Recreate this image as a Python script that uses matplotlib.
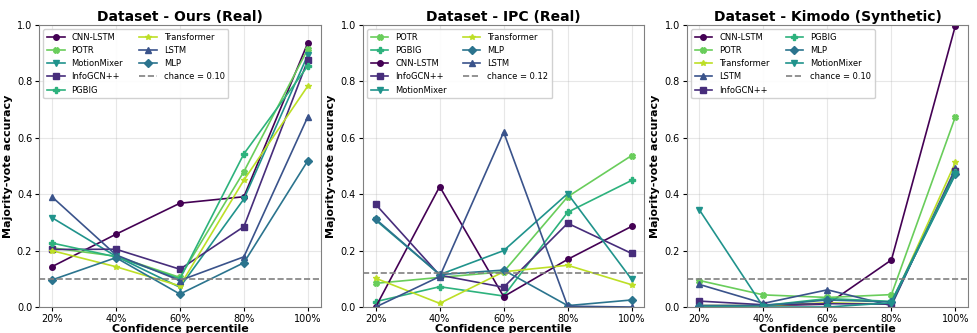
import numpy as np
import matplotlib
matplotlib.use("Agg")
import matplotlib.pyplot as plt

percentiles = ["20%", "40%", "60%", "80%", "100%"]
models = ["CNN-LSTM", "InfoGCN++", "LSTM", "MLP", "MotionMixer", "PGBIG", "POTR", "Transformer"]
markers = ["o", "s", "^", "D", "v", "P", "X", "*"]

# majority-vote accuracy per model, ordered by percentile
ours = {
    "CNN-LSTM":    [0.143, 0.258, 0.368, 0.391, 0.937],
    "InfoGCN++":   [0.204, 0.205, 0.134, 0.285, 0.876],
    "LSTM":        [0.391, 0.185, 0.094, 0.178, 0.675],
    "MLP":         [0.096, 0.175, 0.046, 0.157, 0.519],
    "MotionMixer": [0.317, 0.180, 0.070, 0.383, 0.894],
    "PGBIG":       [0.227, 0.178, 0.100, 0.543, 0.855],
    "POTR":        [0.210, 0.180, 0.105, 0.480, 0.915],
    "Transformer": [0.200, 0.143, 0.075, 0.450, 0.784],
}
ipc = {
    "CNN-LSTM":    [0.000, 0.427, 0.037, 0.169, 0.286],
    "InfoGCN++":   [0.364, 0.113, 0.070, 0.297, 0.190],
    "LSTM":        [0.000, 0.108, 0.620, 0.003, 0.000],
    "MLP":         [0.312, 0.115, 0.131, 0.005, 0.025],
    "MotionMixer": [0.308, 0.115, 0.200, 0.402, 0.098],
    "PGBIG":       [0.019, 0.072, 0.039, 0.336, 0.449],
    "POTR":        [0.084, 0.105, 0.125, 0.391, 0.537],
    "Transformer": [0.102, 0.013, 0.125, 0.148, 0.079],
}
kimodo = {
    "CNN-LSTM":    [0.005, 0.005, 0.010, 0.167, 0.998],
    "InfoGCN++":   [0.021, 0.008, 0.012, 0.010, 0.482],
    "LSTM":        [0.080, 0.013, 0.061, 0.005, 0.492],
    "MLP":         [0.005, 0.005, 0.025, 0.018, 0.473],
    "MotionMixer": [0.344, 0.000, 0.000, 0.015, 0.470],
    "PGBIG":       [0.000, 0.005, 0.030, 0.020, 0.478],
    "POTR":        [0.094, 0.043, 0.034, 0.044, 0.675],
    "Transformer": [0.005, 0.005, 0.015, 0.010, 0.513],
}
panels = [
    ("Dataset - Ours (Real)", ours, 0.10),
    ("Dataset - IPC (Real)", ipc, 0.12),
    ("Dataset - Kimodo (Synthetic)", kimodo, 0.10),
]

colors = plt.cm.viridis(np.linspace(0, 0.9, len(models)))

fig, axes = plt.subplots(1, 3, figsize=(9.78, 3.33), dpi=100)
x = np.arange(len(percentiles))

for ax, (title, data, chance) in zip(axes, panels):
    # legend order follows the value at the top percentile
    order = sorted(models, key=lambda m: -data[m][-1])
    for m in order:
        i = models.index(m)
        ax.plot(x, data[m], marker=markers[i], color=colors[i], lw=1.2, ms=4, label=m)
    ax.axhline(chance, color="gray", ls="--", lw=1.2, label=f"chance = {chance:.2f}")
    ax.set_title(title, fontsize=10, fontweight="bold", pad=3)
    ax.set_xticks(x)
    ax.set_xticklabels(percentiles)
    ax.tick_params(labelsize=7, pad=2, length=3)
    ax.set_ylim(0, 1.0)
    ax.set_xlim(-0.2, 4.2)
    ax.set_xlabel("Confidence percentile", fontsize=8, fontweight="bold", labelpad=0)
    ax.set_ylabel("Majority-vote accuracy", fontsize=8, fontweight="bold", labelpad=3)
    ax.grid(True, alpha=0.3)
    for s in ax.spines.values():
        s.set_color("gray")
    ax.legend(ncol=2, fontsize=6, loc="upper left", framealpha=0.9,
              handlelength=2.1, labelspacing=0.5, columnspacing=1.9,
              borderpad=0.45, handletextpad=0.85, borderaxespad=0.5)

plt.subplots_adjust(left=0.04, right=0.99, top=0.925, bottom=0.078, wspace=0.15)
fig.savefig("out.png", dpi=100)
